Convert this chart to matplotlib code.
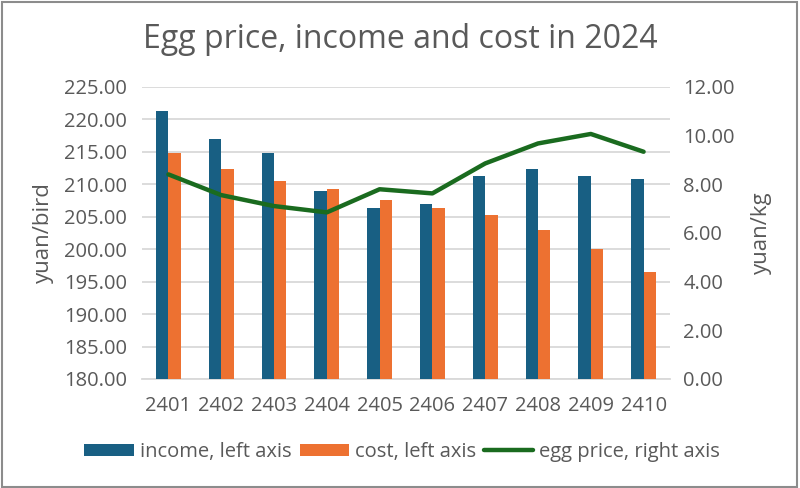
import matplotlib
matplotlib.use("Agg")
import matplotlib.pyplot as plt
import numpy as np
from matplotlib.patches import Rectangle

months = ["2401", "2402", "2403", "2404", "2405", "2406", "2407", "2408", "2409", "2410"]
income = [221.3, 216.9, 214.8, 209.0, 206.3, 206.9, 211.3, 212.3, 211.3, 210.8]
cost = [214.8, 212.4, 210.5, 209.2, 207.6, 206.4, 205.2, 203.0, 200.0, 196.4]
egg_price = [8.40, 7.55, 7.10, 6.84, 7.79, 7.62, 8.85, 9.67, 10.06, 9.33]

C_INCOME = "#185F83"
C_COST = "#ED7131"
C_LINE = "#1A6B1F"
C_TEXT = "#595959"
C_GRID = "#D9D9D9"

plt.rcParams["font.family"] = ["Open Sans", "DejaVu Sans"]

fig = plt.figure(figsize=(8.0, 4.88), dpi=100)
ax = fig.add_axes([142 / 800, 1 - 379 / 488, (670 - 142) / 800, (379 - 86.7) / 488])
ax2 = ax.twinx()

x = np.arange(len(months))
w = 0.235
ax.bar(x - w / 2, income, w, color=C_INCOME, label="income, left axis", zorder=3)
ax.bar(x + w / 2, cost, w, color=C_COST, label="cost, left axis", zorder=3)
ax2.plot(x, egg_price, color=C_LINE, lw=3.2, label="egg price, right axis",
         solid_joinstyle="round", solid_capstyle="round")

ax.set_xlim(-0.5, len(months) - 0.5)
ax.set_ylim(180, 225)
ax.set_yticks(np.arange(180, 226, 5))
ax.set_yticklabels([f"{v:.2f}" for v in np.arange(180, 226, 5)])
ax2.set_ylim(0, 12)
ax2.set_yticks(np.arange(0, 13, 2))
ax2.set_yticklabels([f"{v:.2f}" for v in np.arange(0, 13, 2)])
ax.set_xticks(x)
ax.set_xticklabels(months)

ax.grid(axis="y", color=C_GRID, lw=1.3, zorder=0)
ax.set_axisbelow(True)
for a in (ax, ax2):
    for s in a.spines.values():
        s.set_visible(False)
    a.tick_params(length=0, labelsize=14.5, colors=C_TEXT)
ax.spines["bottom"].set_visible(True)
ax.spines["bottom"].set_color(C_GRID)
ax.spines["bottom"].set_linewidth(1.3)
ax.tick_params(axis="x", pad=12)
ax.tick_params(axis="y", pad=11)
ax2.tick_params(axis="y", pad=9.5)

ax.set_ylabel("yuan/bird", fontsize=16, color=C_TEXT, labelpad=7)
ax2.set_ylabel("yuan/kg", fontsize=16, color=C_TEXT, labelpad=12)

fig.text(0.5, 1 - 39 / 488, "Egg price, income and cost in 2024", ha="center", va="center",
         fontsize=23, color=C_TEXT)

h1, l1 = ax.get_legend_handles_labels()
h2, l2 = ax2.get_legend_handles_labels()
fig.legend(h1 + h2, l1 + l2, loc="center", bbox_to_anchor=(0.503, 1 - 452 / 488), ncol=3,
           frameon=False, fontsize=14.5, labelcolor=C_TEXT, handlelength=2.45,
           handleheight=0.6, columnspacing=0.4, handletextpad=0.3)

fig.add_artist(Rectangle((0.002, 0.003), 0.994, 0.993, transform=fig.transFigure,
                         fill=False, edgecolor="#8C8C8C", lw=1.5))

fig.savefig("out.png", dpi=100)
